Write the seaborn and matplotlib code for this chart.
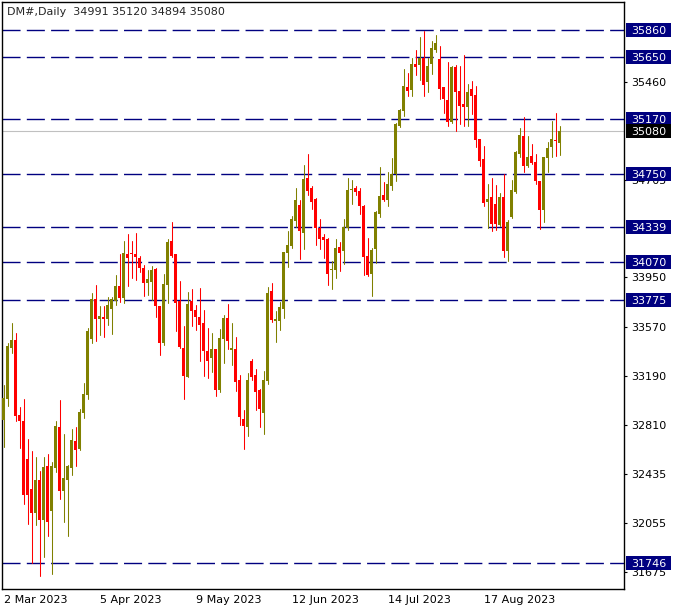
import numpy as np
import pandas as pd
import matplotlib
matplotlib.use('Agg')
import matplotlib.pyplot as plt
import matplotlib.transforms as mtransforms
from matplotlib.patches import Rectangle
import seaborn as sns

# daily OHLC, DM# (2 Mar 2023 .. 13 Sep 2023)
opens = [32849, 33011, 33405, 33467, 32888, 32841, 32548, 32317, 32131, 32386,
         32077, 32494, 32147, 32479, 32795, 32301, 32386, 32479, 32687, 32625,
         32903, 33042, 33475, 33783, 33629, 33644, 33629, 33706, 33768, 33884,
         33791, 34131, 34138, 34131, 34100, 34023, 33907, 33915, 34015, 33729,
         33444, 33891, 34231, 34131, 33768, 33405, 33181, 33768, 33698, 33644,
         33598, 33382, 33328, 33397, 33081, 33475, 33637, 33390, 33397, 33158,
         32857, 32795, 33305, 33197, 33081, 32903, 33150, 33845, 33613, 33613,
         33706, 34138, 34192, 34385, 34509, 34293, 34717, 34640, 34555, 34331,
         34262, 34247, 34007, 34007, 34185, 34154, 34331, 34625, 34640, 34617,
         34501, 34115, 33976, 34169, 34440, 34586, 34548, 34656, 34748, 35119,
         35235, 35420, 35397, 35598, 35590, 35644, 35459, 35598, 35706, 35636,
         35420, 35320, 35150, 35574, 35389, 35289, 35266, 35405, 35358, 35019,
         34864, 34532, 34571, 34517, 34355, 34571, 34154, 34416, 34609, 34903,
         35042, 34810, 34887, 34841, 34694, 34470, 34872, 34957, 35011, 34991]
highs = [33119, 33444, 33598, 33521, 32950, 33011, 32703, 32610, 32564, 32455,
         32564, 32587, 32525, 32841, 33004, 32741, 32502, 32780, 32795, 32934,
         33135, 33559, 33830, 33891, 33729, 33729, 33799, 33799, 33969, 34131,
         34231, 34285, 34231, 34293, 34115, 34046, 34007, 34038, 34023, 33729,
         33976, 34247, 34378, 34131, 33922, 33575, 33837, 33861, 33737, 33868,
         33698, 33559, 33521, 33397, 33552, 33660, 33745, 33598, 33490, 33197,
         32926, 33212, 33320, 33243, 33089, 33228, 33876, 33907, 33691, 33760,
         34146, 34308, 34424, 34640, 34548, 34818, 34903, 34656, 34563, 34401,
         34285, 34254, 34077, 34247, 34223, 34401, 34717, 34702, 34656, 34640,
         34509, 34254, 34177, 34463, 34802, 34687, 34764, 34872, 35140, 35250,
         35559, 35528, 35644, 35706, 35806, 35852, 35644, 35775, 35821, 35737,
         35420, 35613, 35580, 35590, 35582, 35667, 35443, 35466, 35428, 35019,
         34965, 34671, 34717, 34663, 34602, 34748, 34393, 34702, 34925, 35103,
         35188, 35042, 34980, 34903, 34694, 34880, 34995, 35157, 35219, 35120]
lows = [32641, 32957, 33366, 32841, 32633, 32201, 32046, 31745, 32039, 31645,
        31792, 31954, 31660, 32448, 32239, 32062, 31954, 32425, 32494, 32618,
        32865, 33011, 33444, 33459, 33505, 33490, 33583, 33513, 33737, 33760,
        33752, 33884, 33945, 33930, 33992, 33806, 33814, 33776, 33644, 33351,
        33428, 33752, 34108, 33536, 33405, 33011, 33181, 33575, 33544, 33305,
        33189, 33173, 33220, 33035, 33065, 33289, 33397, 33274, 33073, 32811,
        32625, 32726, 33158, 32926, 32795, 32741, 33127, 33606, 33451, 33544,
        33637, 34030, 34180, 34339, 34092, 34169, 34586, 34478, 34200, 34169,
        34100, 33891, 33861, 33945, 34000, 34054, 34316, 34517, 34586, 34440,
        33969, 33960, 33806, 34061, 34416, 34540, 34501, 34625, 34694, 35111,
        35196, 35350, 35350, 35513, 35474, 35350, 35381, 35520, 35690, 35327,
        35219, 35119, 35140, 35080, 35134, 35119, 35119, 35212, 34957, 34810,
        34501, 34331, 34308, 34316, 34345, 34108, 34077, 34409, 34600, 34880,
        34764, 34800, 34825, 34671, 34324, 34378, 34764, 34880, 34887, 34894]
closes = [33019, 33420, 33467, 32880, 32841, 32270, 32270, 32131, 32386, 32077,
          32486, 32062, 32494, 32803, 32301, 32401, 32494, 32695, 32618, 32911,
          33050, 33536, 33783, 33629, 33652, 33629, 33737, 33783, 33884, 33791,
          34138, 34100, 34131, 34108, 34023, 33907, 33938, 34007, 33729, 33444,
          33899, 34223, 34115, 33752, 33413, 33189, 33745, 33691, 33644, 33583,
          33382, 33305, 33397, 33081, 33482, 33637, 33459, 33405, 33143, 32872,
          32803, 33158, 33181, 33065, 32934, 33158, 33830, 33621, 33629, 33722,
          34146, 34200, 34401, 34548, 34308, 34710, 34617, 34532, 34331, 34247,
          34239, 33976, 34015, 34177, 34138, 34339, 34625, 34633, 34609, 34501,
          34108, 33969, 34162, 34455, 34579, 34548, 34671, 34748, 35134, 35242,
          35428, 35389, 35598, 35574, 35644, 35435, 35582, 35721, 35760, 35405,
          35327, 35150, 35574, 35381, 35273, 35266, 35381, 35350, 35011, 34849,
          34524, 34555, 34362, 34362, 34571, 34154, 34378, 34625, 34918, 35049,
          34810, 34880, 34833, 34694, 34470, 34880, 34949, 35019, 35003, 35080]

dates = pd.bdate_range('2023-03-02', periods=len(opens))
levels = [35860, 35650, 35170, 34750, 34339, 34070, 33775, 31746]
axis_ticks = [35460, 34705, 33950, 33570, 33190, 32810, 32435, 32055, 31675]
bid = 35080
title = 'DM#,Daily  34991 35120 34894 35080'

UP = '#808000'
DOWN = '#FF0000'
NAVY = '#000080'

sns.set_style('white')
plt.rcParams['font.family'] = ['DejaVu Sans']
plt.rcParams['lines.scale_dashes'] = False

W, H = 681, 613
fig = plt.figure(figsize=(W / 100, H / 100), dpi=100)
ax = fig.add_axes([2 / W, 1 - 589 / H, 622 / W, 587 / H])

df = pd.DataFrame({'bar': np.arange(len(opens)), 'open': opens, 'high': highs,
                   'low': lows, 'close': closes})
df['dir'] = np.where(df['close'] >= df['open'], 'up', 'down')

# wicks
wicks = pd.concat([df[['bar', 'low', 'dir']].rename(columns={'low': 'price'}),
                   df[['bar', 'high', 'dir']].rename(columns={'high': 'price'})])
sns.lineplot(data=wicks, x='bar', y='price', units='bar', estimator=None,
             hue='dir', palette={'up': UP, 'down': DOWN}, linewidth=0.75,
             legend=False, sort=False, ax=ax)

# bodies
bottom = df[['open', 'close']].min(axis=1)
height = np.maximum((df['close'] - df['open']).abs(), 7.7)
ax.bar(df['bar'], height, bottom=bottom, width=0.75,
       color=[UP if d == 'up' else DOWN for d in df['dir']], linewidth=0, zorder=3)

ax.set_xlim(-0.375, 155.125)
ax.set_ylim(31544, 36076)

# support / resistance lines
for lv in levels:
    ax.axhline(lv, color=NAVY, lw=1.0, dashes=(13, 4.5), zorder=1)
ax.axhline(bid, color='#C0C0C0', lw=0.8, zorder=1)

ax.yaxis.tick_right()
ax.set_yticks(axis_ticks)
ax.set_yticklabels([str(t) for t in axis_ticks])
ax.tick_params(axis='y', length=2, width=0.8, pad=3.5, labelsize=8, colors='black')

tick_bars = list(range(0, len(dates), 24))
ax.set_xticks(tick_bars)
ax.set_xticklabels([f'{dates[i].day} {dates[i]:%b %Y}' for i in tick_bars])
for lab in ax.get_xticklabels():
    lab.set_horizontalalignment('left')
ax.tick_params(axis='x', length=2.5, width=0.8, pad=1.5, labelsize=8, colors='black')
ax.set_xlabel('')
ax.set_ylabel('')

for s in ax.spines.values():
    s.set_color('black')
    s.set_linewidth(1.0)

# price labels on the right axis
trans = mtransforms.blended_transform_factory(ax.transAxes, ax.transData)
px = 7.72
x0 = (626 - 2) / 622
bw = 45 / 622
for lv in levels + [bid]:
    fc = 'black' if lv == bid else NAVY
    ax.add_patch(Rectangle((x0, lv - 7 * px), bw, 14 * px, transform=trans,
                           facecolor=fc, edgecolor='none', clip_on=False, zorder=5))
    ax.text(x0 + bw / 2, lv, str(lv), transform=trans, ha='center',
            va='center_baseline', color='white', fontsize=8, zorder=6, clip_on=False)

fig.text(7 / W, 1 - 12 / H, title, fontsize=8, va='center', ha='left')

fig.savefig('out.png', dpi=100)
